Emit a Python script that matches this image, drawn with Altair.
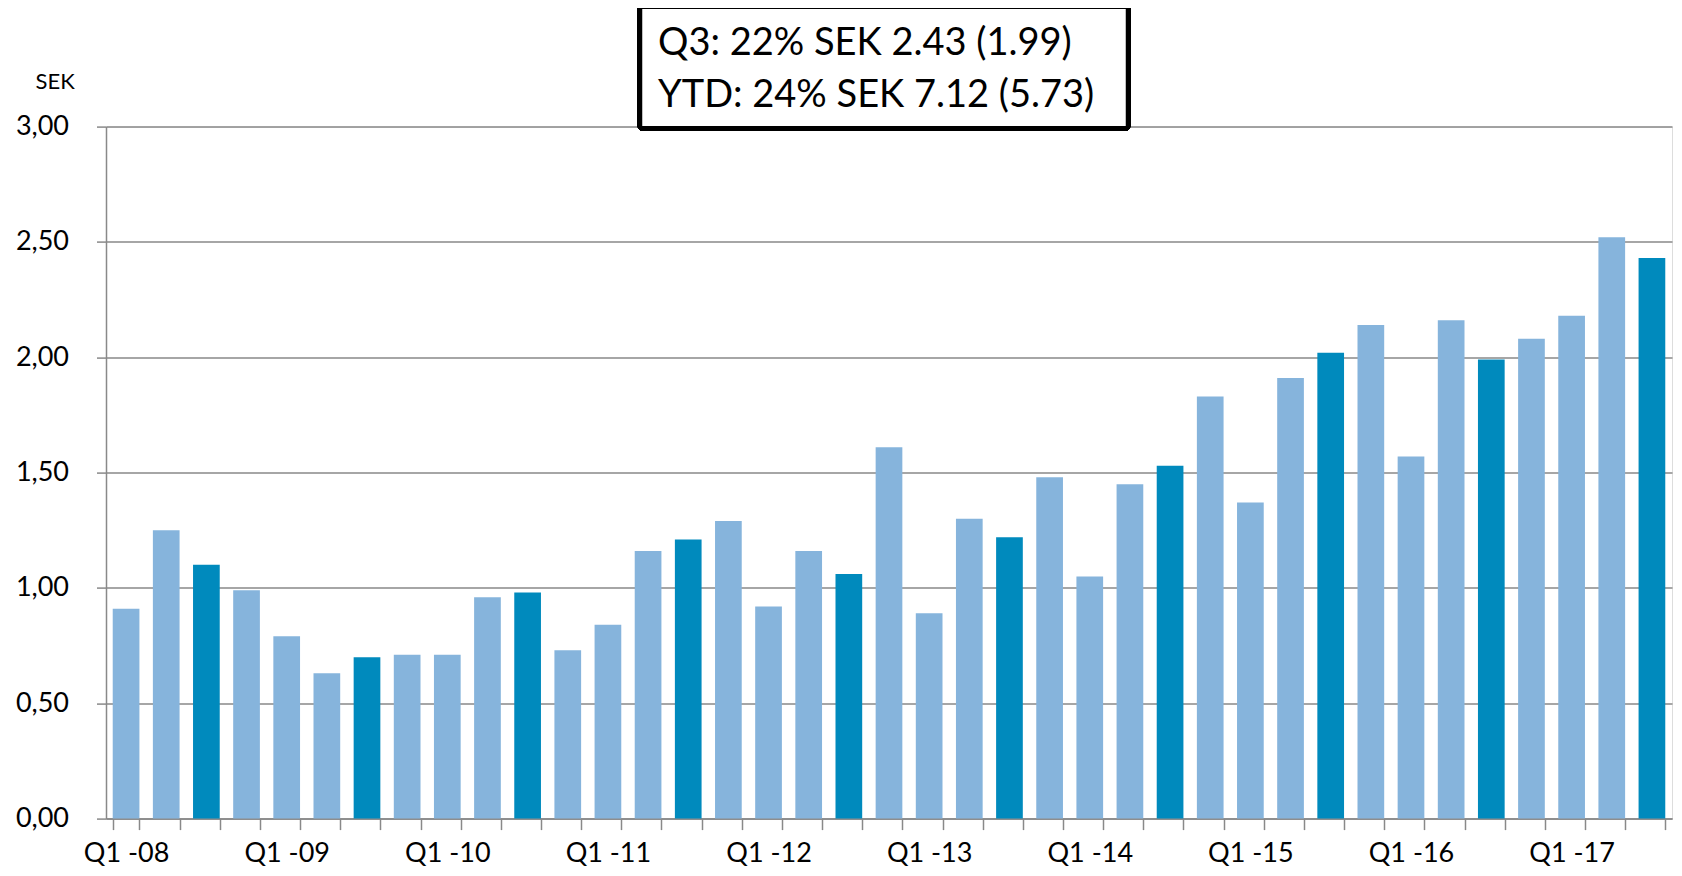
import altair as alt
import pandas as pd

quarters = [
    "Q1 -08", "Q2 -08", "Q3 -08", "Q4 -08",
    "Q1 -09", "Q2 -09", "Q3 -09", "Q4 -09",
    "Q1 -10", "Q2 -10", "Q3 -10", "Q4 -10",
    "Q1 -11", "Q2 -11", "Q3 -11", "Q4 -11",
    "Q1 -12", "Q2 -12", "Q3 -12", "Q4 -12",
    "Q1 -13", "Q2 -13", "Q3 -13", "Q4 -13",
    "Q1 -14", "Q2 -14", "Q3 -14", "Q4 -14",
    "Q1 -15", "Q2 -15", "Q3 -15", "Q4 -15",
    "Q1 -16", "Q2 -16", "Q3 -16", "Q4 -16",
    "Q1 -17", "Q2 -17", "Q3 -17",
]
eps = [
    0.91, 1.25, 1.10, 0.99,
    0.79, 0.63, 0.70, 0.71,
    0.71, 0.96, 0.98, 0.73,
    0.84, 1.16, 1.21, 1.29,
    0.92, 1.16, 1.06, 1.61,
    0.89, 1.30, 1.22, 1.48,
    1.05, 1.45, 1.53, 1.83,
    1.37, 1.91, 2.02, 2.14,
    1.57, 2.16, 1.99, 2.08,
    2.18, 2.52, 2.43,
]
box_lines = ["Q3: 22% SEK 2.43 (1.99)", "YTD: 24% SEK 7.12 (5.73)"]
y_ticks = [0, 0.5, 1.0, 1.5, 2.0, 2.5, 3.0]

df = pd.DataFrame({
    "quarter": quarters,
    "eps": eps,
    "kind": ["Q3" if q.startswith("Q3") else "other" for q in quarters],
})

W, H = 1566, 692
FONT = "Lato"

bars = alt.Chart(df).mark_bar().encode(
    x=alt.X(
        "quarter:N",
        sort=quarters,
        scale=alt.Scale(paddingInner=0.335, paddingOuter=0.1675),
        axis=alt.Axis(
            title=None,
            tickBand="extent",
            labelExpr="substring(datum.value, 0, 2) == 'Q1' ? datum.value : ''",
            labelOverlap=False,
            labelAngle=0,
            labelFont=FONT,
            labelFontSize=27,
            labelColor="#000000",
            labelPadding=11,
            tickSize=11,
            tickColor="#898989",
            tickWidth=1.5,
            domainColor="#898989",
            domainWidth=1.5,
            grid=False,
        ),
    ),
    y=alt.Y(
        "eps:Q",
        scale=alt.Scale(domain=[0, 3], nice=False),
        axis=alt.Axis(
            values=y_ticks,
            labelExpr="replace(format(datum.value, '.2f'), '.', ',')",
            labelFont=FONT,
            labelFontSize=27,
            labelColor="#000000",
            labelPadding=28,
            tickSize=9.5,
            tickColor="#898989",
            tickWidth=1.5,
            domainColor="#898989",
            domainWidth=1.5,
            grid=True,
            gridColor="#898989",
            gridWidth=1.5,
            title="SEK",
            titleAngle=0,
            titleX=-71,
            titleY=-38.3,
            titleAlign="left",
            titleBaseline="alphabetic",
            titleFont=FONT,
            titleFontSize=22,
            titleFontWeight="normal",
            titleColor="#000000",
        ),
    ),
    color=alt.Color(
        "kind:N",
        scale=alt.Scale(domain=["other", "Q3"], range=["#86B4DC", "#008ABD"]),
        legend=None,
    ),
)

box = alt.Chart(df).mark_rect(
    fill="white", stroke="black", strokeWidth=4.5, cornerRadius=2
).encode(
    x=alt.value(534), x2=alt.value(1022),
    y=alt.value(-119.9), y2=alt.value(1.7),
)

box_df = pd.DataFrame({"line": box_lines, "row": [0, 1]})
box_text = alt.Chart(box_df).mark_text(
    align="left", baseline="alphabetic", font=FONT, fontSize=38, color="black"
).encode(
    text="line:N",
    x=alt.value(552),
    y=alt.value(-71.6),
).transform_filter("datum.row == 0")

box_text2 = alt.Chart(box_df).mark_text(
    align="left", baseline="alphabetic", font=FONT, fontSize=38, color="black"
).encode(
    text="line:N",
    x=alt.value(552),
    y=alt.value(-19.3),
).transform_filter("datum.row == 1")

chart = alt.layer(bars, box, box_text, box_text2).properties(
    width=W,
    height=H,
    autosize=alt.AutoSizeParams(type="none"),
    padding={"left": 98, "top": 118.6, "right": 2, "bottom": 49.4},
).configure_view(stroke=None).configure(background="white")

chart.save("out.html", embed_options={"renderer": "svg", "actions": False})
